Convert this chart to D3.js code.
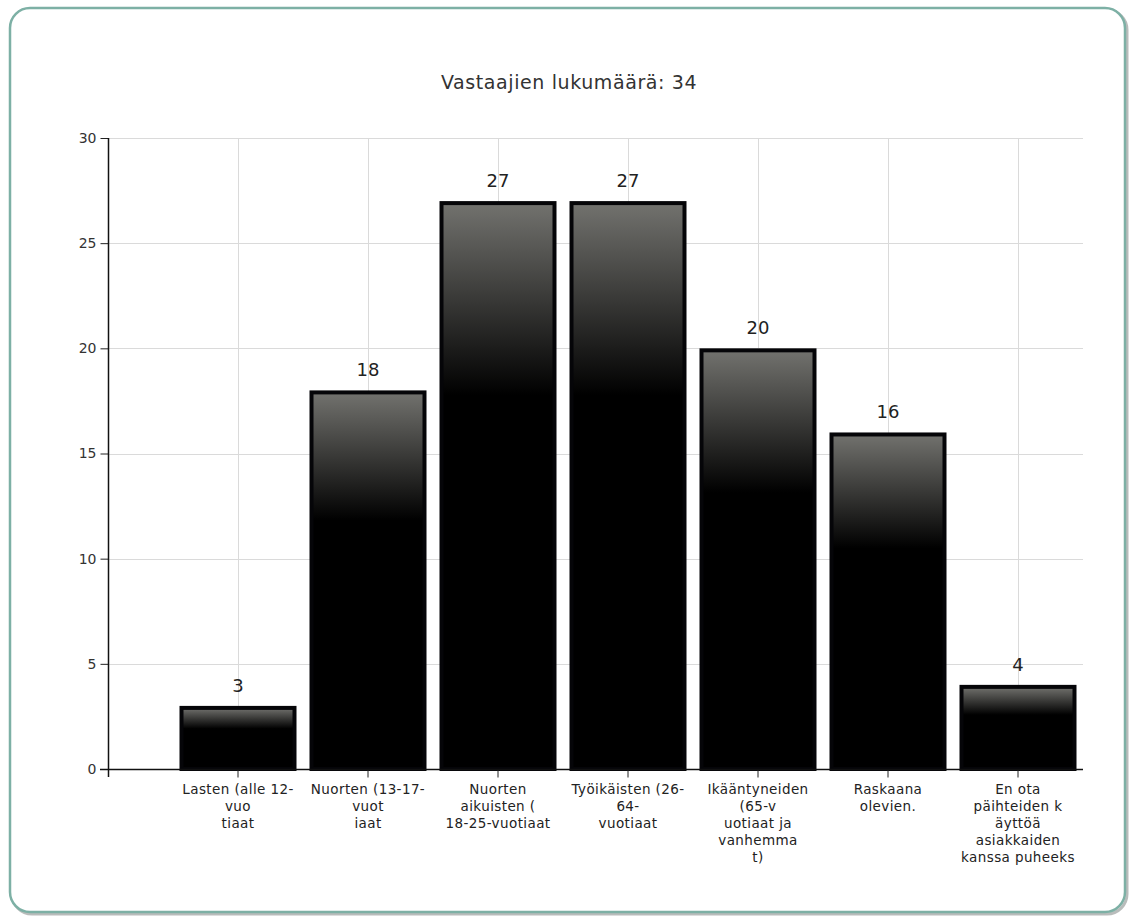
<!DOCTYPE html>
<html>
<head>
<meta charset="utf-8">
<script src="https://cdn.jsdelivr.net/npm/d3@7"></script>
<style>
  body { margin: 0; background: #fff; }
  svg { display: block; font-family: "DejaVu Sans", Verdana, sans-serif; }
</style>
</head>
<body>
<svg id="chart" width="1130" height="916"></svg>
<script>
// chart data
var title = "Vastaajien lukumäärä: 34";
var categories = [
  ["Lasten (alle 12-", "vuo", "tiaat"],
  ["Nuorten (13-17-", "vuot", "iaat"],
  ["Nuorten", "aikuisten (", "18-25-vuotiaat"],
  ["Työikäisten (26-", "64-", "vuotiaat"],
  ["Ikääntyneiden", "(65-v", "uotiaat ja", "vanhemma", "t)"],
  ["Raskaana", "olevien."],
  ["En ota", "päihteiden k", "äyttöä", "asiakkaiden", "kanssa puheeks"]
];
var values = [3, 18, 27, 27, 20, 16, 4];
var yTicks = [0, 5, 10, 15, 20, 25, 30];

var svg = d3.select("#chart");

// frame
svg.append("rect")
  .attr("x", 12).attr("y", 10)
  .attr("width", 1115).attr("height", 904)
  .attr("rx", 20).attr("ry", 20)
  .attr("fill", "none")
  .attr("stroke", "#b9bcbb")
  .attr("stroke-width", 3);
svg.append("rect")
  .attr("x", 10).attr("y", 8)
  .attr("width", 1115).attr("height", 904)
  .attr("rx", 20).attr("ry", 20)
  .attr("fill", "#fff")
  .attr("stroke", "#7db0a5")
  .attr("stroke-width", 2.5);

var grad = svg.append("defs").append("linearGradient")
  .attr("id", "barGrad")
  .attr("x1", 0).attr("y1", 0).attr("x2", 0).attr("y2", 1);
grad.append("stop").attr("offset", 0).attr("stop-color", "#72726e");
grad.append("stop").attr("offset", 0.34).attr("stop-color", "#000");
grad.append("stop").attr("offset", 1).attr("stop-color", "#000");

var plotL = 108, plotR = 1083, plotT = 138, plotB = 769;

var x = d3.scaleBand()
  .domain(d3.range(categories.length))
  .range([plotL + 65, plotR]);

var y = d3.scaleLinear()
  .domain([0, 30])
  .range([plotB, plotT]);

svg.append("text")
  .attr("x", 569).attr("y", 89)
  .attr("text-anchor", "middle")
  .attr("font-size", 19)
  .attr("letter-spacing", 0.6)
  .attr("fill", "#333")
  .text(title);

// grid
var grid = svg.append("g").attr("stroke", "#dadada").attr("stroke-width", 1);
grid.selectAll("line.h").data(yTicks.slice(1)).enter().append("line")
  .attr("x1", plotL).attr("x2", plotR)
  .attr("y1", function (d) { return Math.round(y(d)) + 0.5; })
  .attr("y2", function (d) { return Math.round(y(d)) + 0.5; });
grid.selectAll("line.v").data(x.domain()).enter().append("line")
  .attr("x1", function (d) { return Math.round(x(d) + x.bandwidth() / 2) + 0.5; })
  .attr("x2", function (d) { return Math.round(x(d) + x.bandwidth() / 2) + 0.5; })
  .attr("y1", plotT).attr("y2", plotB);

// bars
var barW = 113;
var bars = svg.append("g").selectAll("g").data(values).enter().append("g");
bars.append("rect")
  .attr("x", function (d, i) { return x(i) + x.bandwidth() / 2 - barW / 2; })
  .attr("y", function (d) { return y(d) + 2; })
  .attr("width", barW)
  .attr("height", function (d) { return plotB - y(d) - 2; })
  .attr("fill", "url(#barGrad)")
  .attr("stroke", "#050508")
  .attr("stroke-width", 4);
bars.append("text")
  .attr("x", function (d, i) { return x(i) + x.bandwidth() / 2; })
  .attr("y", function (d) { return y(d) - 14; })
  .attr("text-anchor", "middle")
  .attr("font-size", 18)
  .attr("fill", "#222")
  .text(function (d) { return d; });

// y axis
var yAxisG = svg.append("g")
  .attr("transform", "translate(" + (plotL + 0.5) + ",0)")
  .call(d3.axisLeft(y).tickValues(yTicks).tickSize(8).tickSizeOuter(0).tickPadding(4));
yAxisG.select(".domain").remove();
yAxisG.attr("font-size", 14).attr("font-family", "DejaVu Sans, Verdana, sans-serif");
yAxisG.selectAll(".tick line").attr("stroke", "#222");
yAxisG.selectAll(".tick text").attr("fill", "#333");
svg.append("line")
  .attr("x1", plotL + 0.5).attr("x2", plotL + 0.5)
  .attr("y1", plotT).attr("y2", plotB + 8)
  .attr("stroke", "#111").attr("stroke-width", 1.5);

// x axis
var xAxisG = svg.append("g")
  .attr("transform", "translate(0," + (plotB + 0.5) + ")")
  .call(d3.axisBottom(x).tickSize(8).tickSizeOuter(0).tickFormat(""));
xAxisG.select(".domain").remove();
xAxisG.selectAll(".tick line").attr("stroke", "#222");
svg.append("line")
  .attr("x1", plotL - 8).attr("x2", plotR)
  .attr("y1", plotB + 0.5).attr("y2", plotB + 0.5)
  .attr("stroke", "#111").attr("stroke-width", 1.5);

var labels = svg.append("g").selectAll("text").data(categories).enter().append("text")
  .attr("x", function (d, i) { return x(i) + x.bandwidth() / 2; })
  .attr("y", 794)
  .attr("text-anchor", "middle")
  .attr("font-size", 13.5)
  .attr("letter-spacing", 0.4)
  .attr("fill", "#222");
labels.selectAll("tspan").data(function (d) { return d; }).enter().append("tspan")
  .attr("x", function () { return this.parentNode.getAttribute("x"); })
  .attr("dy", function (d, i) { return i === 0 ? 0 : 17; })
  .text(function (d) { return d; });
</script>
</body>
</html>
